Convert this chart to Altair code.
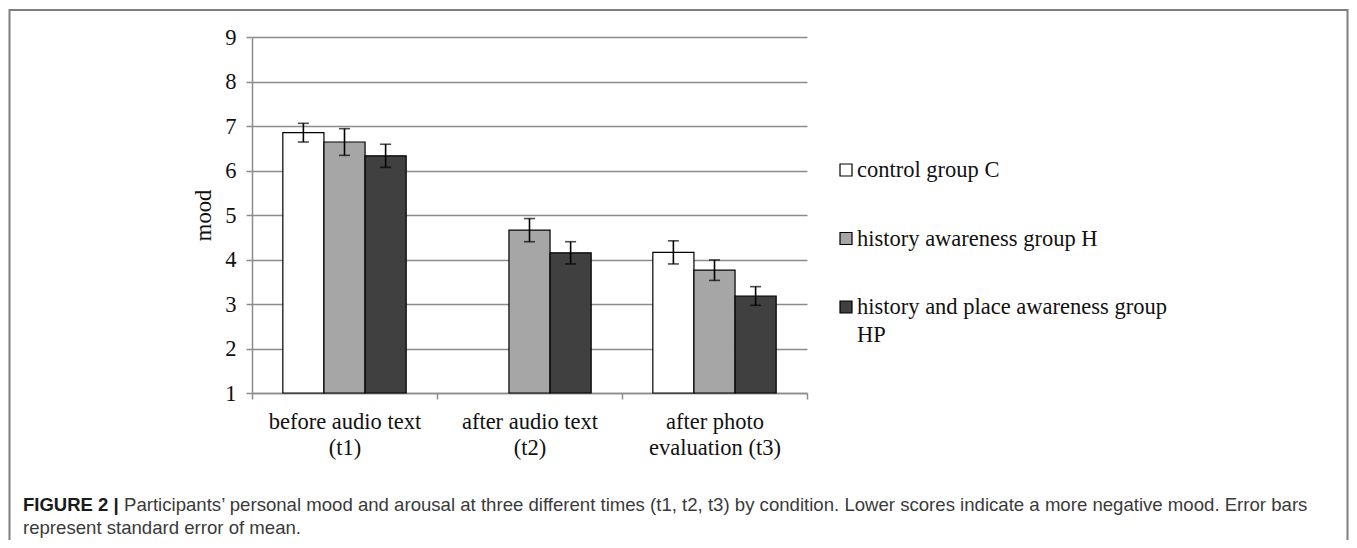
import altair as alt
import pandas as pd

# ---- data ----
categories = ["before audio text\n(t1)", "after audio text\n(t2)", "after photo\nevaluation (t3)"]
groups = ["control group C", "history awareness group H", "history and place awareness group HP"]
legend_labels = ["control group C", "history awareness group H", "history and place awareness group\nHP"]
colors = ["#ffffff", "#a6a6a6", "#404040"]

mean_C = [6.85, None, 4.16]
mean_H = [6.64, 4.66, 3.76]
mean_HP = [6.33, 4.15, 3.18]
se_C = [0.21, None, 0.26]
se_H = [0.30, 0.26, 0.23]
se_HP = [0.26, 0.25, 0.21]

y_ticks = [1, 2, 3, 4, 5, 6, 7, 8, 9]

caption_bold = "FIGURE 2 |"
caption_line1 = ("Participants\u2019 personal mood and arousal at three different times (t1, t2, t3) "
                 "by condition. Lower scores indicate a more negative mood. Error bars")
caption_line2 = "represent standard error of mean."

# ---- build table ----
rows = []
for g, means, ses in zip(groups, [mean_C, mean_H, mean_HP], [se_C, se_H, se_HP]):
    for c, m, s in zip(categories, means, ses):
        if m is None:
            continue
        rows.append({"time": c, "group": g, "mood": m, "lo": m - s, "hi": m + s})
df = pd.DataFrame(rows)

legend_df = pd.DataFrame({"group": groups, "label": legend_labels, "row": [0, 1, 2]})

SERIF = "Liberation Serif"
SANS = "Liberation Sans"
GRID = "#8c8c8c"
FS = 22.5

color_scale = alt.Scale(domain=groups, range=colors)
x_enc = alt.X("time:N", sort=categories,
              scale=alt.Scale(domain=categories, paddingInner=0, paddingOuter=0),
              axis=alt.Axis(title=None, labelAngle=0, labelExpr="split(datum.label, '\\n')",
                            labelFont=SERIF, labelFontSize=FS, labelColor="#111",
                            labelLineHeight=26, labelPadding=11, labelBaseline="top",
                            domainColor=GRID, domainWidth=1.5, tickColor=GRID, tickWidth=1.5,
                            tickSize=6, tickBand="extent", grid=False))
xoff_enc = alt.XOffset("group:N", sort=groups,
                       scale=alt.Scale(domain=groups, paddingInner=0, paddingOuter=0.75))
y_scale = alt.Scale(domain=[1, 9], nice=False, zero=False)

bars = alt.Chart(df).mark_bar(stroke="#000000", strokeWidth=1.2).encode(
    x=x_enc,
    xOffset=xoff_enc,
    y=alt.Y("mood:Q", scale=y_scale,
            axis=alt.Axis(values=y_ticks, title="mood", titleFont=SERIF, titleFontSize=FS,
                          titleFontWeight="normal", titleColor="#111", titlePadding=9,
                          labelFont=SERIF, labelFontSize=FS, labelColor="#111", labelPadding=10,
                          domainColor=GRID, domainWidth=1.5, tickColor=GRID, tickWidth=1.5,
                          tickSize=6, grid=True, gridColor=GRID, gridWidth=1.5)),
    y2=alt.Y2(datum=1),
    fill=alt.Fill("group:N", scale=color_scale, legend=None),
)

err = alt.Chart(df).mark_rule(color="#000000", strokeWidth=1.6).encode(
    x=x_enc,
    xOffset=xoff_enc,
    y=alt.Y("lo:Q", scale=y_scale, axis=None),
    y2="hi:Q",
)
cap_hi = alt.Chart(df).mark_tick(color="#000000", thickness=1.6, size=11).encode(
    x=x_enc,
    xOffset=xoff_enc,
    y=alt.Y("hi:Q", scale=y_scale, axis=None),
)
cap_lo = alt.Chart(df).mark_tick(color="#000000", thickness=1.6, size=11).encode(
    x=x_enc,
    xOffset=xoff_enc,
    y=alt.Y("lo:Q", scale=y_scale, axis=None),
)

leg_y = alt.Y("row:Q", scale=alt.Scale(domain=[0, 2], range=[133, 270]), axis=None)
leg_sq = alt.Chart(legend_df).mark_square(size=144, stroke="#000000", strokeWidth=1.2,
                                          opacity=1, filled=True).encode(
    x=alt.value(594),
    y=leg_y,
    fill=alt.Fill("group:N", scale=color_scale, legend=None),
)
leg_tx = alt.Chart(legend_df).mark_text(align="left", baseline="alphabetic", dy=7,
                                        font=SERIF, fontSize=FS, color="#111",
                                        lineBreak="\n", lineHeight=28).encode(
    x=alt.value(605),
    y=leg_y,
    text="label:N",
)

one = pd.DataFrame({"k": [0]})
frame = alt.Chart(one).mark_rect(filled=False, fill=None, stroke="#7f7f7f", strokeWidth=2).encode(
    x=alt.value(-242.5), x2=alt.value(1095.5), y=alt.value(-27), y2=alt.value(540))

cap_df = pd.DataFrame({"t": [caption_bold]})
cap1_df = pd.DataFrame({"t": [caption_line1]})
cap2_df = pd.DataFrame({"t": [caption_line2]})
cap_b = alt.Chart(cap_df).mark_text(align="left", baseline="alphabetic", font=SANS,
                                    fontSize=18.5, fontWeight="bold", color="#1a1a1a").encode(
    x=alt.value(-229), y=alt.value(474), text="t:N")
cap_1 = alt.Chart(cap1_df).mark_text(align="left", baseline="alphabetic", font=SANS,
                                     fontSize=18.6, color="#3a3a3a").encode(
    x=alt.value(-128), y=alt.value(474), text="t:N")
cap_2 = alt.Chart(cap2_df).mark_text(align="left", baseline="alphabetic", font=SANS,
                                     fontSize=18.6, color="#3a3a3a").encode(
    x=alt.value(-229), y=alt.value(497), text="t:N")

chart = alt.layer(
    bars, err, cap_hi, cap_lo, leg_sq, leg_tx,
    frame, cap_b, cap_1, cap_2
).resolve_scale(
    y="independent", x="shared", color="shared", fill="shared"
).properties(
    width=555, height=356,
    padding={"left": 244, "top": 29, "right": 542, "bottom": 147},
    autosize=alt.AutoSizeParams(type="none"),
    background="#ffffff",
).configure_view(stroke=None)

chart.save("out.html", embed_options={"renderer": "svg", "actions": False})
